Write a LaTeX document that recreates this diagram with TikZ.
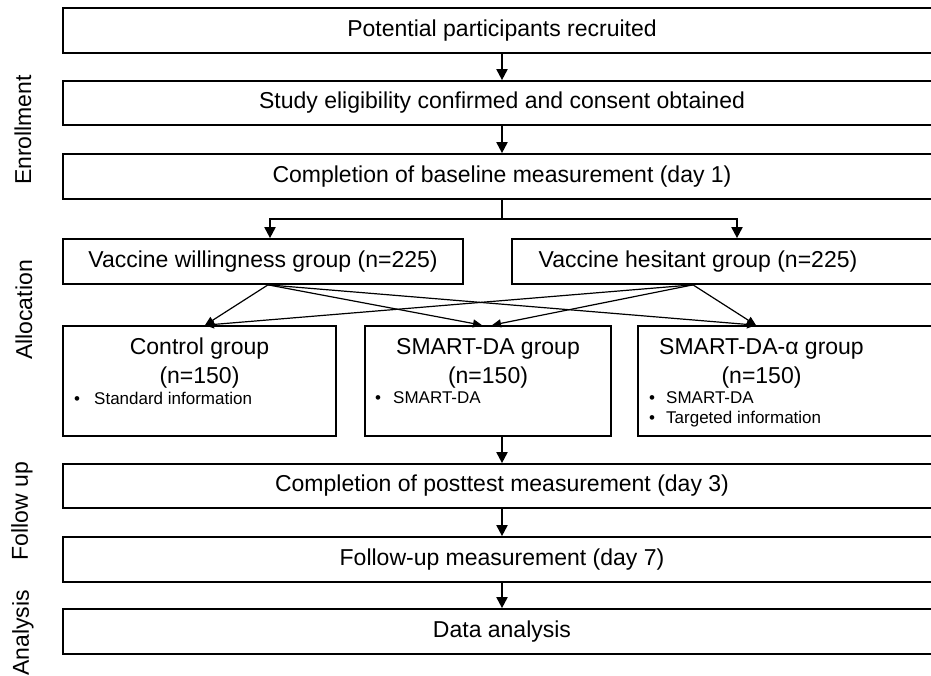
\documentclass[tikz,border=0pt]{standalone}
\usepackage{fontspec}
\setmainfont{Liberation Sans}
\usetikzlibrary{arrows.meta}
\begin{document}
\begin{tikzpicture}[x=1pt,y=-1pt,
  box/.style={draw=black,line width=1.7pt,rectangle,inner sep=0pt,minimum height=45pt},
  full/.style={box,minimum width=878pt},
  big/.style={font=\fontsize{23}{27}\selectfont},
  small/.style={font=\fontsize{17}{20}\selectfont},
  lbl/.style={inner sep=0pt},
  arr/.style={line width=1.9pt,-{Triangle[width=11pt,length=11pt]}},
  darr/.style={line width=1.2pt,-{Triangle[width=8pt,length=9pt]}},
  side/.style={big,rotate=90,inner sep=0pt}]
\useasboundingbox (0,0) rectangle (931,675);
\clip (0,0) rectangle (931,675);
% side labels
\node[side] (lenr) at (23,130) {Enrollment};
\node[side] (lall) at (24,310) {Allocation};
\node[side] (lfu) at (22,511) {Follow up};
\node[side] (lana) at (23,633) {Analysis};
% full-width boxes
\node[full,big] (b1) at (502,30.5) {Potential participants recruited};
\node[full,big,minimum height=44pt] (b2) at (502,103) {Study eligibility confirmed and consent obtained};
\node[full,big] (b3) at (502,176.5) {Completion of baseline measurement (day 1)};
\node[full,big,minimum height=44pt] (post) at (502,486) {Completion of posttest measurement (day 3)};
\node[full,big] (fu) at (502,559.5) {Follow-up measurement (day 7)};
\node[full,big] (da) at (502,631.5) {Data analysis};
% allocation boxes
\node[box,big,minimum width=400pt] (will) at (263,261.5) {Vaccine willingness group (n=225)};
\node[box,minimum width=429pt] (hes) at (726.5,261.5) {};
\node[big,lbl] (hest) at (698,261.5) {Vaccine hesitant group (n=225)};
% group boxes
\node[box,minimum width=273pt,minimum height=110pt] (ctrl) at (199.5,381) {};
\node[box,minimum width=246pt,minimum height=110pt] (smart) at (488,381) {};
\node[box,minimum width=303pt,minimum height=110pt] (alpha) at (789.5,381) {};
\node[big,lbl,anchor=base] (ctrlt) at (199.5,354) {Control group};
\node[big,lbl,anchor=base] (ctrln) at (199.5,383) {(n=150)};
\node[small,lbl,anchor=base west] (ctrl1) at (74,404) {\makebox[20pt][l]{\textbullet}Standard information};
\node[big,lbl,anchor=base] (smartt) at (488,354) {SMART-DA group};
\node[big,lbl,anchor=base] (smartn) at (488,383) {(n=150)};
\node[small,lbl,anchor=base west] (smart1) at (375,403) {\makebox[18pt][l]{\textbullet}SMART-DA};
\node[big,lbl,anchor=base] (alphat) at (761.5,354) {SMART-DA-α group};
\node[big,lbl,anchor=base] (alphan) at (761.5,383) {(n=150)};
\node[small,lbl,anchor=base west] (alpha1) at (649,403) {\makebox[17pt][l]{\textbullet}SMART-DA};
\node[small,lbl,anchor=base west] (alpha2) at (649,423) {\makebox[17pt][l]{\textbullet}Targeted information};
% vertical arrows
\draw[arr] (b1) -- (b2);
\draw[arr] (b2) -- (b3);
\draw[line width=1.9pt] (b3.south) -- (b3.south |- 0,219) coordinate (brc);
\draw[arr] (brc) -| ([xshift=7pt]will.north);
\draw[arr] (brc) -| ([xshift=10.5pt]hes.north);
\draw[arr] (smart.south -| post.north) -- (post.north);
\draw[arr] (post) -- (fu);
\draw[arr] (fu) -- (da);
% diagonal allocation arrows
\coordinate (ws) at ([xshift=5pt]will.south);
\coordinate (hs) at ([xshift=-33.5pt]hes.south);
\draw[darr] (ws) -- ([xshift=5.5pt]ctrl.north);
\draw[darr] (ws) -- ([xshift=-6pt]smart.north);
\draw[darr] (ws) -- ([xshift=-33.5pt]alpha.north);
\draw[darr] (hs) -- ([xshift=5.5pt]ctrl.north);
\draw[darr] (hs) -- ([xshift=4pt]smart.north);
\draw[darr] (hs) -- ([xshift=-33.5pt]alpha.north);
\end{tikzpicture}
\end{document}
